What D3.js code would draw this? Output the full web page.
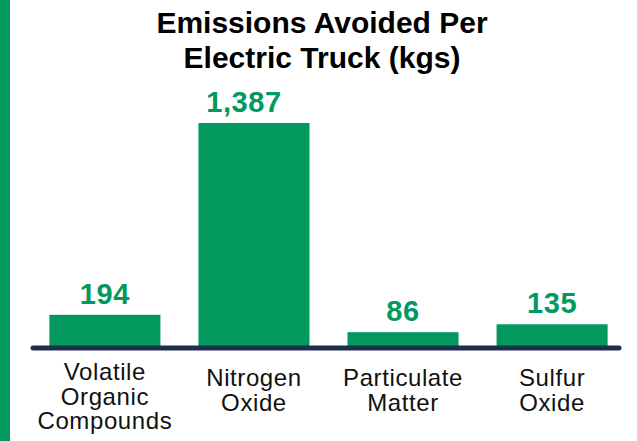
<!DOCTYPE html>
<html>
<head>
<meta charset="utf-8">
<script src="https://cdn.jsdelivr.net/npm/d3@7"></script>
<style>
  body { margin: 0; background: #fff; }
  svg { display: block; }
  text { font-family: 'Liberation Sans', Arial, Helvetica, sans-serif; }
</style>
</head>
<body>
<div class="chart"></div>
<script>
// values
const categories = ["Volatile Organic Compounds", "Nitrogen Oxide", "Particulate Matter", "Sulfur Oxide"];
const labelLines = [["Volatile", "Organic", "Compounds"], ["Nitrogen", "Oxide"], ["Particulate", "Matter"], ["Sulfur", "Oxide"]];
const emissions = [194, 1387, 86, 135];
const titleLines = ["Emissions Avoided Per", "Electric Truck (kgs)"];

const w = 637, h = 441;
const green = "#03995e";
const navy = "#1c2f4f";

const svg = d3.select(".chart")
  .append("svg")
  .attr("width", w)
  .attr("height", h);

// green strip on the left
svg.append("rect")
  .attr("x", 0).attr("y", 0)
  .attr("width", 10).attr("height", h)
  .attr("fill", green);

const x = d3.scaleBand()
  .domain(categories)
  .range([30, 627])
  .paddingInner(0.255)
  .paddingOuter(0.13);

const y = d3.scaleLinear()
  .domain([0, d3.max(emissions)])
  .range([346, 123]);

const data = categories.map((c, i) => ({cat: c, val: emissions[i], lines: labelLines[i]}));

svg.selectAll(".bar")
  .data(data)
  .enter()
  .append("rect")
  .attr("class", "bar")
  .attr("x", d => x(d.cat))
  .attr("y", d => y(d.val))
  .attr("width", x.bandwidth())
  .attr("height", d => y(0) - y(d.val))
  .attr("fill", green);

// baseline
svg.append("line")
  .attr("x1", 33).attr("x2", 619)
  .attr("y1", 348).attr("y2", 348)
  .attr("stroke", navy)
  .attr("stroke-width", 5)
  .attr("stroke-linecap", "round");

// value labels
svg.selectAll(".val")
  .data(data)
  .enter()
  .append("text")
  .attr("class", "val")
  .attr("x", d => x(d.cat) + x.bandwidth() / 2 + (d.val >= 1000 ? -10 : 0))
  .attr("y", d => y(d.val) - 11)
  .attr("text-anchor", "middle")
  .attr("fill", green)
  .style("font-weight", "bold")
  .style("font-size", "29px")
  .style("letter-spacing", "0.6px")
  .text(d => d3.format(",")(d.val));

// category labels
const cat = svg.selectAll(".cat")
  .data(data)
  .enter()
  .append("text")
  .attr("class", "cat")
  .attr("text-anchor", "middle")
  .attr("fill", "#111")
  .style("font-size", "24px")
  .style("letter-spacing", "0.6px");

cat.selectAll("tspan")
  .data(d => d.lines.map((l, j) => ({l: l, j: j, n: d.lines.length, cx: x(d.cat) + x.bandwidth() / 2})))
  .enter()
  .append("tspan")
  .attr("x", t => t.cx)
  .attr("y", t => 392 - 6 * (t.n - 1) + t.j * 24.5)
  .text(t => t.l);

// title
svg.append("text")
  .attr("text-anchor", "middle")
  .style("font-weight", "bold")
  .style("font-size", "30px")
  .attr("fill", "#000")
  .selectAll("tspan")
  .data(titleLines)
  .enter()
  .append("tspan")
  .attr("x", 322)
  .attr("y", (d, i) => 33 + i * 34.5)
  .text(d => d);
</script>
</body>
</html>
